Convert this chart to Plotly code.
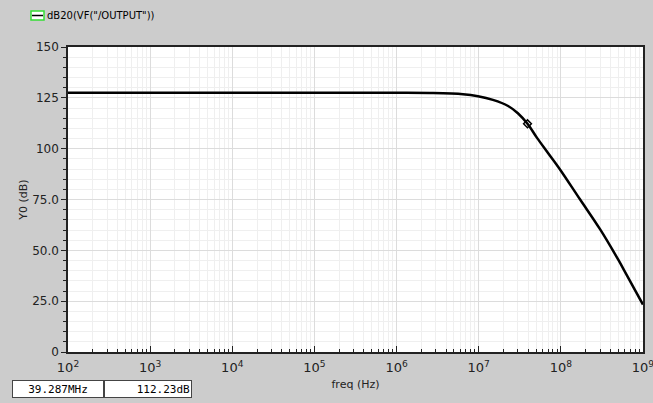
import plotly.graph_objects as go

# Curve: frequency (Hz) and magnitude (dB)
freq_hz = [1e2, 1e3, 1e4, 1e5, 1e6, 2.55e6, 6.44e6, 9.8e6, 1.49e7, 2.28e7, 3.0e7,
           3.9287e7, 5.13e7, 6.98e7, 9.77e7, 1.71e8, 3.0e8, 5.0e8,
           6.4e8, 1e9]
mag_db = [127.5, 127.5, 127.5, 127.5, 127.5, 127.4, 126.8, 125.8, 124.0, 121.0, 117.4,
          112.23, 105.3, 97.9, 89.8, 75.1, 60.4, 45.4,
          37.6, 23.3]

marker_freq = [3.9287e7]
marker_db = [112.23]

y_tickvals = [0, 25, 50, 75, 100, 125, 150]
y_ticktext = ["0", "25.0", "50.0", "75.0", "100", "125", "150"]
x_tickvals = [1e2, 1e3, 1e4, 1e5, 1e6, 1e7, 1e8, 1e9]
x_ticktext = ["10<sup>2</sup>", "10<sup>3</sup>", "10<sup>4</sup>", "10<sup>5</sup>",
              "10<sup>6</sup>", "10<sup>7</sup>", "10<sup>8</sup>", "10<sup>9</sup>"]
x_minor_vals = [m * 10 ** e for e in range(2, 9) for m in range(2, 10)]

trace_name = 'dB20(VF("/OUTPUT"))'
readout_x = "39.287MHz"
readout_y = "112.23dB"

fig = go.Figure()
fig.add_trace(go.Scatter(x=freq_hz, y=mag_db, mode="lines",
                         line=dict(color="black", width=2.5, shape="spline", smoothing=1.0),
                         showlegend=False, hoverinfo="skip"))
fig.add_trace(go.Scatter(x=marker_freq, y=marker_db, mode="markers",
                         marker=dict(symbol="diamond-open", size=6, color="black",
                                     line=dict(width=1.5)),
                         showlegend=False))

W, H = 653, 403
ml, mr, mt, mb = 68, 10, 47, 51
font = "DejaVu Sans"

fig.update_layout(
    width=W, height=H,
    margin=dict(l=ml, r=mr, t=mt, b=mb),
    paper_bgcolor="#cccccc",
    plot_bgcolor="white",
    font=dict(family=font, size=12, color="#222222"),
    xaxis=dict(
        type="log", range=[2, 9.0004], automargin=False,
        tickvals=x_tickvals, ticktext=x_ticktext,
        ticks="inside", ticklen=6, tickcolor="#222222",
        showline=True, linecolor="#222222", linewidth=1.5, mirror=True,
        showgrid=True, gridcolor="#dcdcdc", gridwidth=1,
        minor=dict(tickvals=x_minor_vals, ticks="inside", ticklen=3, tickcolor="#222222",
                   showgrid=True, gridcolor="#efefef", gridwidth=1),
        tickfont=dict(size=13, color="#222222"),
        ticklabelstandoff=3,
        ticklabeloverflow="allow",
        title=dict(text="freq (Hz)", font=dict(size=11), standoff=6),
        zeroline=False,
    ),
    yaxis=dict(
        range=[0, 150], automargin=False,
        tickvals=y_tickvals, ticktext=y_ticktext,
        ticks="outside", ticklen=5, tickcolor="#222222",
        showline=True, linecolor="#222222", linewidth=1.5, mirror=True,
        showgrid=True, gridcolor="#dcdcdc", gridwidth=1,
        minor=dict(dtick=5, ticks="outside", ticklen=3, tickcolor="#222222",
                   showgrid=True, gridcolor="#efefef", gridwidth=1),
        tickfont=dict(size=12, color="#222222"),
        title=dict(text="Y0 (dB)", font=dict(size=11), standoff=2),
        zeroline=False,
    ),
)

pw = W - ml - mr
ph = H - mt - mb
def px_x(x):
    return (x - ml) / pw
def px_y(y):
    return 1 - (y - mt) / ph

# legend-like label at top left
fig.add_shape(type="rect", xref="paper", yref="paper",
              x0=px_x(31), x1=px_x(44), y0=px_y(20), y1=px_y(11),
              line=dict(color="#33dd33", width=1.5), fillcolor="white")
fig.add_shape(type="line", xref="paper", yref="paper",
              x0=px_x(32), x1=px_x(43), y0=px_y(15.5), y1=px_y(15.5),
              line=dict(color="black", width=1.5))
fig.add_annotation(xref="paper", yref="paper", x=px_x(45), y=px_y(15.5),
                   xanchor="left", yanchor="middle", showarrow=False,
                   text=trace_name, font=dict(size=10, color="black", family=font))

# readout boxes
fig.add_annotation(xref="paper", yref="paper", x=px_x(12), y=px_y(389),
                   xanchor="left", yanchor="middle", showarrow=False,
                   text=readout_x, width=88, height=14, align="center",
                   bgcolor="white", bordercolor="#444444", borderwidth=1, borderpad=1,
                   font=dict(size=11, color="black", family="DejaVu Sans Mono"))
fig.add_annotation(xref="paper", yref="paper", x=px_x(104), y=px_y(389),
                   xanchor="left", yanchor="middle", showarrow=False,
                   text=readout_y, width=84, height=14, align="right",
                   bgcolor="white", bordercolor="#444444", borderwidth=1, borderpad=1,
                   font=dict(size=11, color="black", family="DejaVu Sans Mono"))

fig.write_html("out.html", config={"displayModeBar": False},
               post_script="document.body.style.margin='0';document.body.style.overflow='hidden';")
